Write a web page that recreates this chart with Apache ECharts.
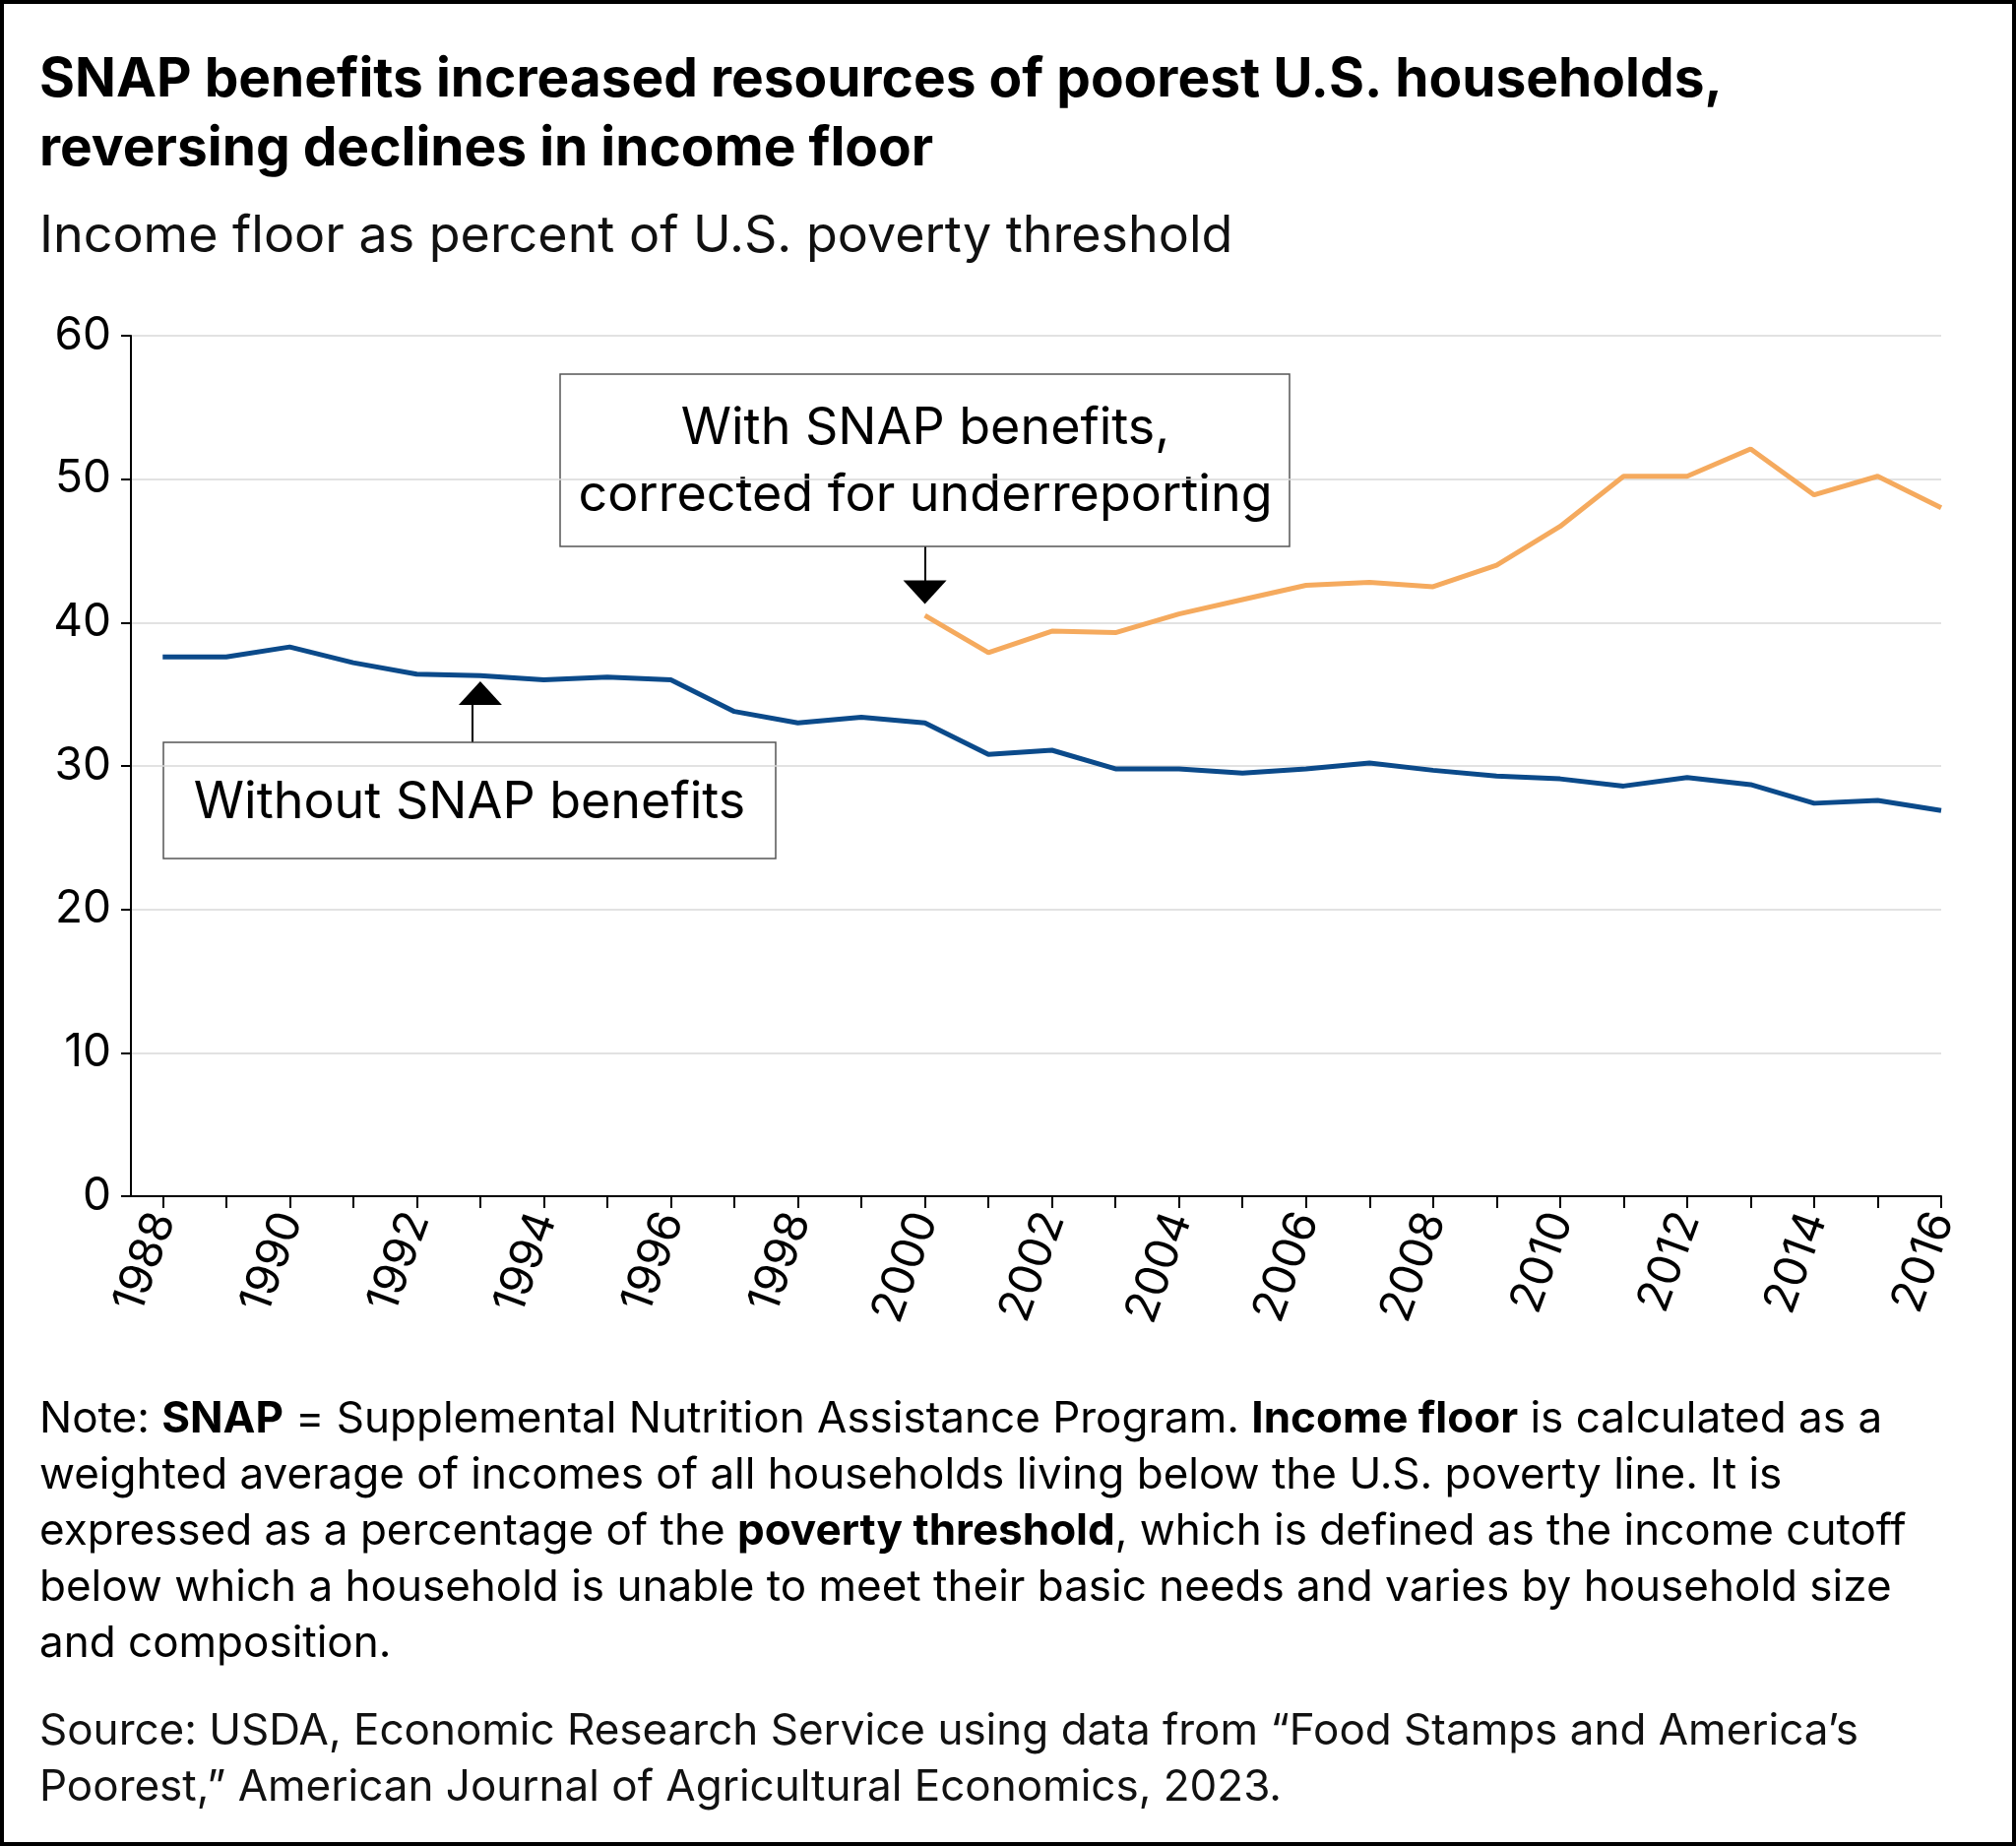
<!DOCTYPE html>
<html>
<head>
<meta charset="utf-8">
<script src="https://cdn.jsdelivr.net/npm/echarts@6/dist/echarts.min.js"></script>
<style>
  html, body { margin: 0; padding: 0; background: #fff; }
  #chart { width: 2048px; height: 1875px; }
</style>
</head>
<body>
<div id="chart"></div>
<script>
const years = [1988, 1989, 1990, 1991, 1992, 1993, 1994, 1995, 1996, 1997, 1998, 1999, 2000, 2001, 2002,
  2003, 2004, 2005, 2006, 2007, 2008, 2009, 2010, 2011, 2012, 2013, 2014, 2015, 2016]
const withoutSnap = [37.6, 37.6, 38.3, 37.2, 36.4, 36.3, 36.0, 36.2, 36.0, 33.8, 33.0, 33.4, 33.0, 30.8, 31.1,
  29.8, 29.8, 29.5, 29.8, 30.2, 29.7, 29.3, 29.1, 28.6, 29.2, 28.7, 27.4, 27.6, 26.9]
const snapYears = [2000, 2001, 2002, 2003, 2004, 2005, 2006, 2007, 2008, 2009, 2010, 2011, 2012, 2013, 2014, 2015, 2016]
const withSnap = [40.5, 37.9, 39.4, 39.3, 40.6, 41.6, 42.6, 42.8, 42.5, 44.0, 46.7, 50.2, 50.2, 52.1, 48.9, 50.2, 48.0]
const labelYears = [1988, 1990, 1992, 1994, 1996, 1998, 2000, 2002, 2004, 2006, 2008, 2010, 2012, 2014, 2016]

const font = 'Inter, "Noto Sans", sans-serif'
const chart = echarts.init(document.getElementById('chart'))

const noteLines = [
  [{ t: 'Note: ' }, { t: 'SNAP', b: 1 }, { t: ' = Supplemental Nutrition Assistance Program. ' }, { t: 'Income floor', b: 1 }, { t: ' is calculated as a' }],
  [{ t: 'weighted average of incomes of all households living below the U.S. poverty line. It is' }],
  [{ t: 'expressed as a percentage of the ' }, { t: 'poverty threshold', b: 1 }, { t: ', which is defined as the income cutoff' }],
  [{ t: 'below which a household is unable to meet their basic needs and varies by household size' }],
  [{ t: 'and composition.' }]
]
const noteGraphics = noteLines.map((parts, i) => ({
  type: 'text', left: 40, top: 1420 + i * 57,
  style: {
    text: parts.map(p => p.b ? '{b|' + p.t + '}' : '{n|' + p.t + '}').join(''),
    rich: { n: { fontSize: 44, fontFamily: font, color: '#111' }, b: { fontSize: 44, fontFamily: font, fontWeight: 'bold', color: '#111' } }
  }
}))

chart.setOption({
  animation: false,
  backgroundColor: '#fff',
  grid: { left: 133, right: 76, top: 341, bottom: 660, containLabel: false },
  xAxis: {
    type: 'value', min: 1987.5, max: 2016,
    axisLine: { lineStyle: { color: '#000', width: 2 } },
    axisTick: { show: true, customValues: years, length: 12, lineStyle: { color: '#000', width: 2 } },
    axisLabel: { customValues: labelYears, rotate: 70, fontSize: 46, fontFamily: font, color: '#000', margin: 18, formatter: v => String(v) },
    splitLine: { show: false }
  },
  yAxis: {
    type: 'value', min: 0, max: 60, interval: 10,
    axisLine: { show: true, lineStyle: { color: '#000', width: 2 } },
    axisTick: { show: true, length: 10, lineStyle: { color: '#000', width: 2 } },
    axisLabel: { fontSize: 46, fontFamily: font, color: '#000', margin: 20 },
    splitLine: { lineStyle: { color: '#d9d9d9', width: 1.5 } }
  },
  series: [
    {
      name: 'Without SNAP benefits', type: 'line', symbol: 'none',
      data: years.map((y, i) => [y, withoutSnap[i]]),
      lineStyle: { color: '#0b4a8a', width: 5 },
      markPoint: {
        symbol: 'triangle', symbolSize: [44, 24], symbolOffset: [0, 12], silent: true,
        itemStyle: { color: '#000' }, label: { show: false },
        data: [{ coord: [1993, 35.9] }]
      }
    },
    {
      name: 'With SNAP benefits, corrected for underreporting', type: 'line', symbol: 'none',
      data: snapYears.map((y, i) => [y, withSnap[i]]),
      lineStyle: { color: '#f5aa5e', width: 5 },
      markPoint: {
        symbol: 'triangle', symbolSize: [44, 24], symbolRotate: 180, symbolOffset: [0, -12], silent: true,
        itemStyle: { color: '#000' }, label: { show: false },
        data: [{ coord: [2000, 41.3] }]
      }
    }
  ],
  graphic: [
    { type: 'rect', shape: { x: 2, y: 2, width: 2044, height: 1871 }, style: { fill: 'none', stroke: '#000', lineWidth: 4 } },
    { type: 'text', left: 40, top: 46, style: { text: 'SNAP benefits increased resources of poorest U.S. households,\nreversing declines in income floor', fontSize: 55, fontWeight: 'bold', fontFamily: font, fill: '#000', lineHeight: 70 } },
    { type: 'text', left: 40, top: 214, style: { text: 'Income floor as percent of U.S. poverty threshold', fontSize: 52, fontFamily: font, fill: '#111' } },
    { type: 'line', shape: { x1: 940, y1: 555, x2: 940, y2: 595 }, style: { stroke: '#000', lineWidth: 2 } },
    { type: 'rect', shape: { x: 569, y: 380, width: 741, height: 175 }, style: { fill: '#fff', stroke: '#555', lineWidth: 1.5 } },
    { type: 'text', x: 940, y: 469, style: { text: 'With SNAP benefits,\ncorrected for underreporting', fontSize: 52, fontFamily: font, fill: '#000', align: 'center', verticalAlign: 'middle', lineHeight: 68 } },
    { type: 'line', shape: { x1: 480, y1: 716, x2: 480, y2: 754 }, style: { stroke: '#000', lineWidth: 2 } },
    { type: 'rect', shape: { x: 166, y: 754, width: 622, height: 118 }, style: { fill: '#fff', stroke: '#555', lineWidth: 1.5 } },
    { type: 'text', x: 477, y: 815, style: { text: 'Without SNAP benefits', fontSize: 52, fontFamily: font, fill: '#000', align: 'center', verticalAlign: 'middle' } },
    ...noteGraphics,
    { type: 'text', left: 40, top: 1730, style: { text: 'Source: USDA, Economic Research Service using data from \u201cFood Stamps and America\u2019s\nPoorest,\u201d American Journal of Agricultural Economics, 2023.', fontSize: 44, fontFamily: font, fill: '#111', lineHeight: 57 } }
  ]
})
</script>
</body>
</html>
